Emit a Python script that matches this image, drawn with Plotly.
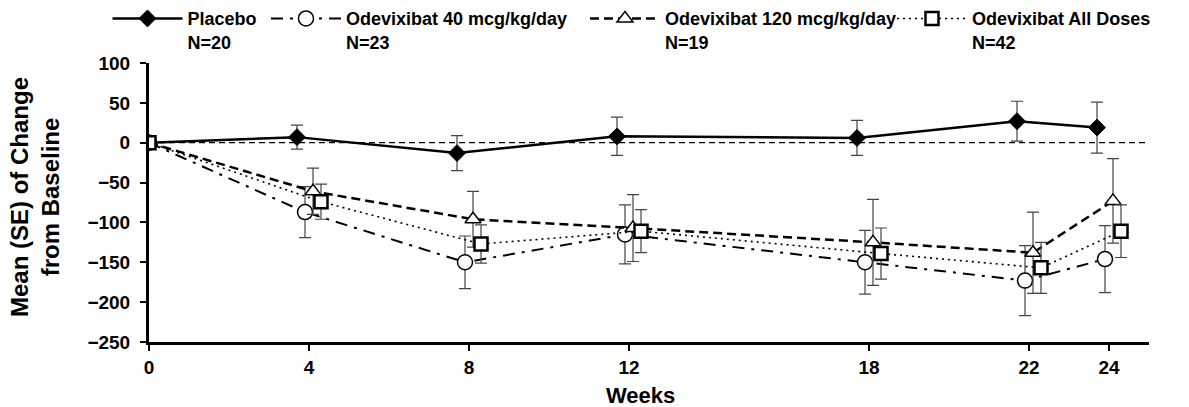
import plotly.graph_objects as go

weeks = [0, 4, 8, 12, 18, 22, 24]
tick_weeks = [0, 4, 8, 12, 18, 22, 24]

placebo = [0, 7, -13, 8, 6, 27, 19]
placebo_se = [0, 15, 22, 24, 22, 25, 32]
d40 = [0, -87, -150, -115, -150, -173, -146]
d40_se = [0, 32, 33, 37, 40, 44, 42]
d120 = [0, -61, -96, -107, -125, -138, -73]
d120_se = [0, 29, 35, 42, 54, 51, 53]
dall = [0, -74, -127, -111, -139, -157, -111]
dall_se = [0, 22, 24, 27, 32, 32, 33]

names = ["Placebo<br>N=20", "Odevixibat 40 mcg/kg/day<br>N=23",
         "Odevixibat 120 mcg/kg/day<br>N=19", "Odevixibat All Doses<br>N=42"]
offsets = [-0.3, -0.1, 0.1, 0.3]
legend_x = [0.0904, 0.2237, 0.492, 0.7502]
y_title = "Mean (SE) of Change<br>from Baseline"
x_title = "Weeks"

FONT = "Liberation Sans, Arial, sans-serif"
W, H = 1189, 407

def shift(off):
    return [w + (off if w > 0 else 0) for w in weeks]

series = [
    dict(y=placebo, se=placebo_se, dash="solid", lw=2.5, sym="diamond", size=13,
         fill="black", mlw=1),
    dict(y=d40, se=d40_se, dash="12px,7px,3px,7px", lw=2, sym="circle", size=15,
         fill="white", mlw=1.5),
    dict(y=d120, se=d120_se, dash="9px,5px", lw=2.5, sym="triangle-up", size=14,
         fill="white", mlw=1.5),
    dict(y=dall, se=dall_se, dash="2px,4px", lw=1.6, sym="square", size=13,
         fill="white", mlw=2.5),
]

legend_ids = ["legend", "legend2", "legend3", "legend4"]

fig = go.Figure()
for s, name, off, lid in zip(series, names, offsets, legend_ids):
    fig.add_trace(go.Scatter(
        x=shift(off), y=s["y"], name=name, mode="lines+markers", legend=lid,
        line=dict(color="black", width=s["lw"], dash=s["dash"]),
        marker=dict(symbol=s["sym"], size=s["size"], color=s["fill"],
                    line=dict(color="black", width=s["mlw"])),
        error_y=dict(type="data", array=s["se"], visible=True,
                     color="#444444", thickness=1.2, width=6),
    ))

fig.add_shape(type="line", xref="x", yref="y", x0=0, x1=25, y0=0, y1=0,
              line=dict(color="black", width=1.2, dash="6px,4px"), layer="below")

fig.add_annotation(text=y_title, xref="paper", yref="paper", x=-0.1135, y=0.518,
                   xanchor="center", yanchor="middle", textangle=-90, showarrow=False,
                   font=dict(size=24, family=FONT, weight="bold", color="black"))
fig.add_annotation(text=x_title, xref="paper", yref="paper", x=0.491, y=-0.1935,
                   xanchor="center", yanchor="middle", showarrow=False,
                   font=dict(size=22, family=FONT, weight="bold", color="black"))

legends = {}
for lid, lx in zip(legend_ids, legend_x):
    legends[lid] = dict(orientation="h", x=lx, xref="container", y=1.225, yref="paper",
                        xanchor="left", yanchor="top", valign="top",
                        font=dict(size=18, family=FONT, weight="bold"),
                        itemwidth=70, bgcolor="rgba(0,0,0,0)")

fig.update_layout(
    width=W, height=H,
    margin=dict(l=149, r=40, t=63, b=65, autoexpand=False),
    paper_bgcolor="white", plot_bgcolor="white",
    font=dict(family=FONT, color="black", size=18, weight="bold"),
    showlegend=True,
    **legends,
    xaxis=dict(range=[0, 25], tickvals=tick_weeks, ticktext=[str(t) for t in tick_weeks],
               showgrid=False, zeroline=False, showline=True, linecolor="black",
               linewidth=3, ticks="outside", ticklen=6, tickwidth=2, tickcolor="black",
               automargin=False,
               tickfont=dict(size=19, family=FONT, weight="bold")),
    yaxis=dict(range=[-250, 100], dtick=50, showgrid=False, zeroline=False,
               showline=True, linecolor="black", linewidth=3, ticks="outside",
               ticklen=6, tickwidth=2, tickcolor="black", automargin=False,
               ticklabelstandoff=6,
               tickfont=dict(size=19, family=FONT, weight="bold")),
)

fig.write_html("out.html", config={"displayModeBar": False},
               post_script="document.body.style.margin='0';document.body.style.overflow='hidden';")
